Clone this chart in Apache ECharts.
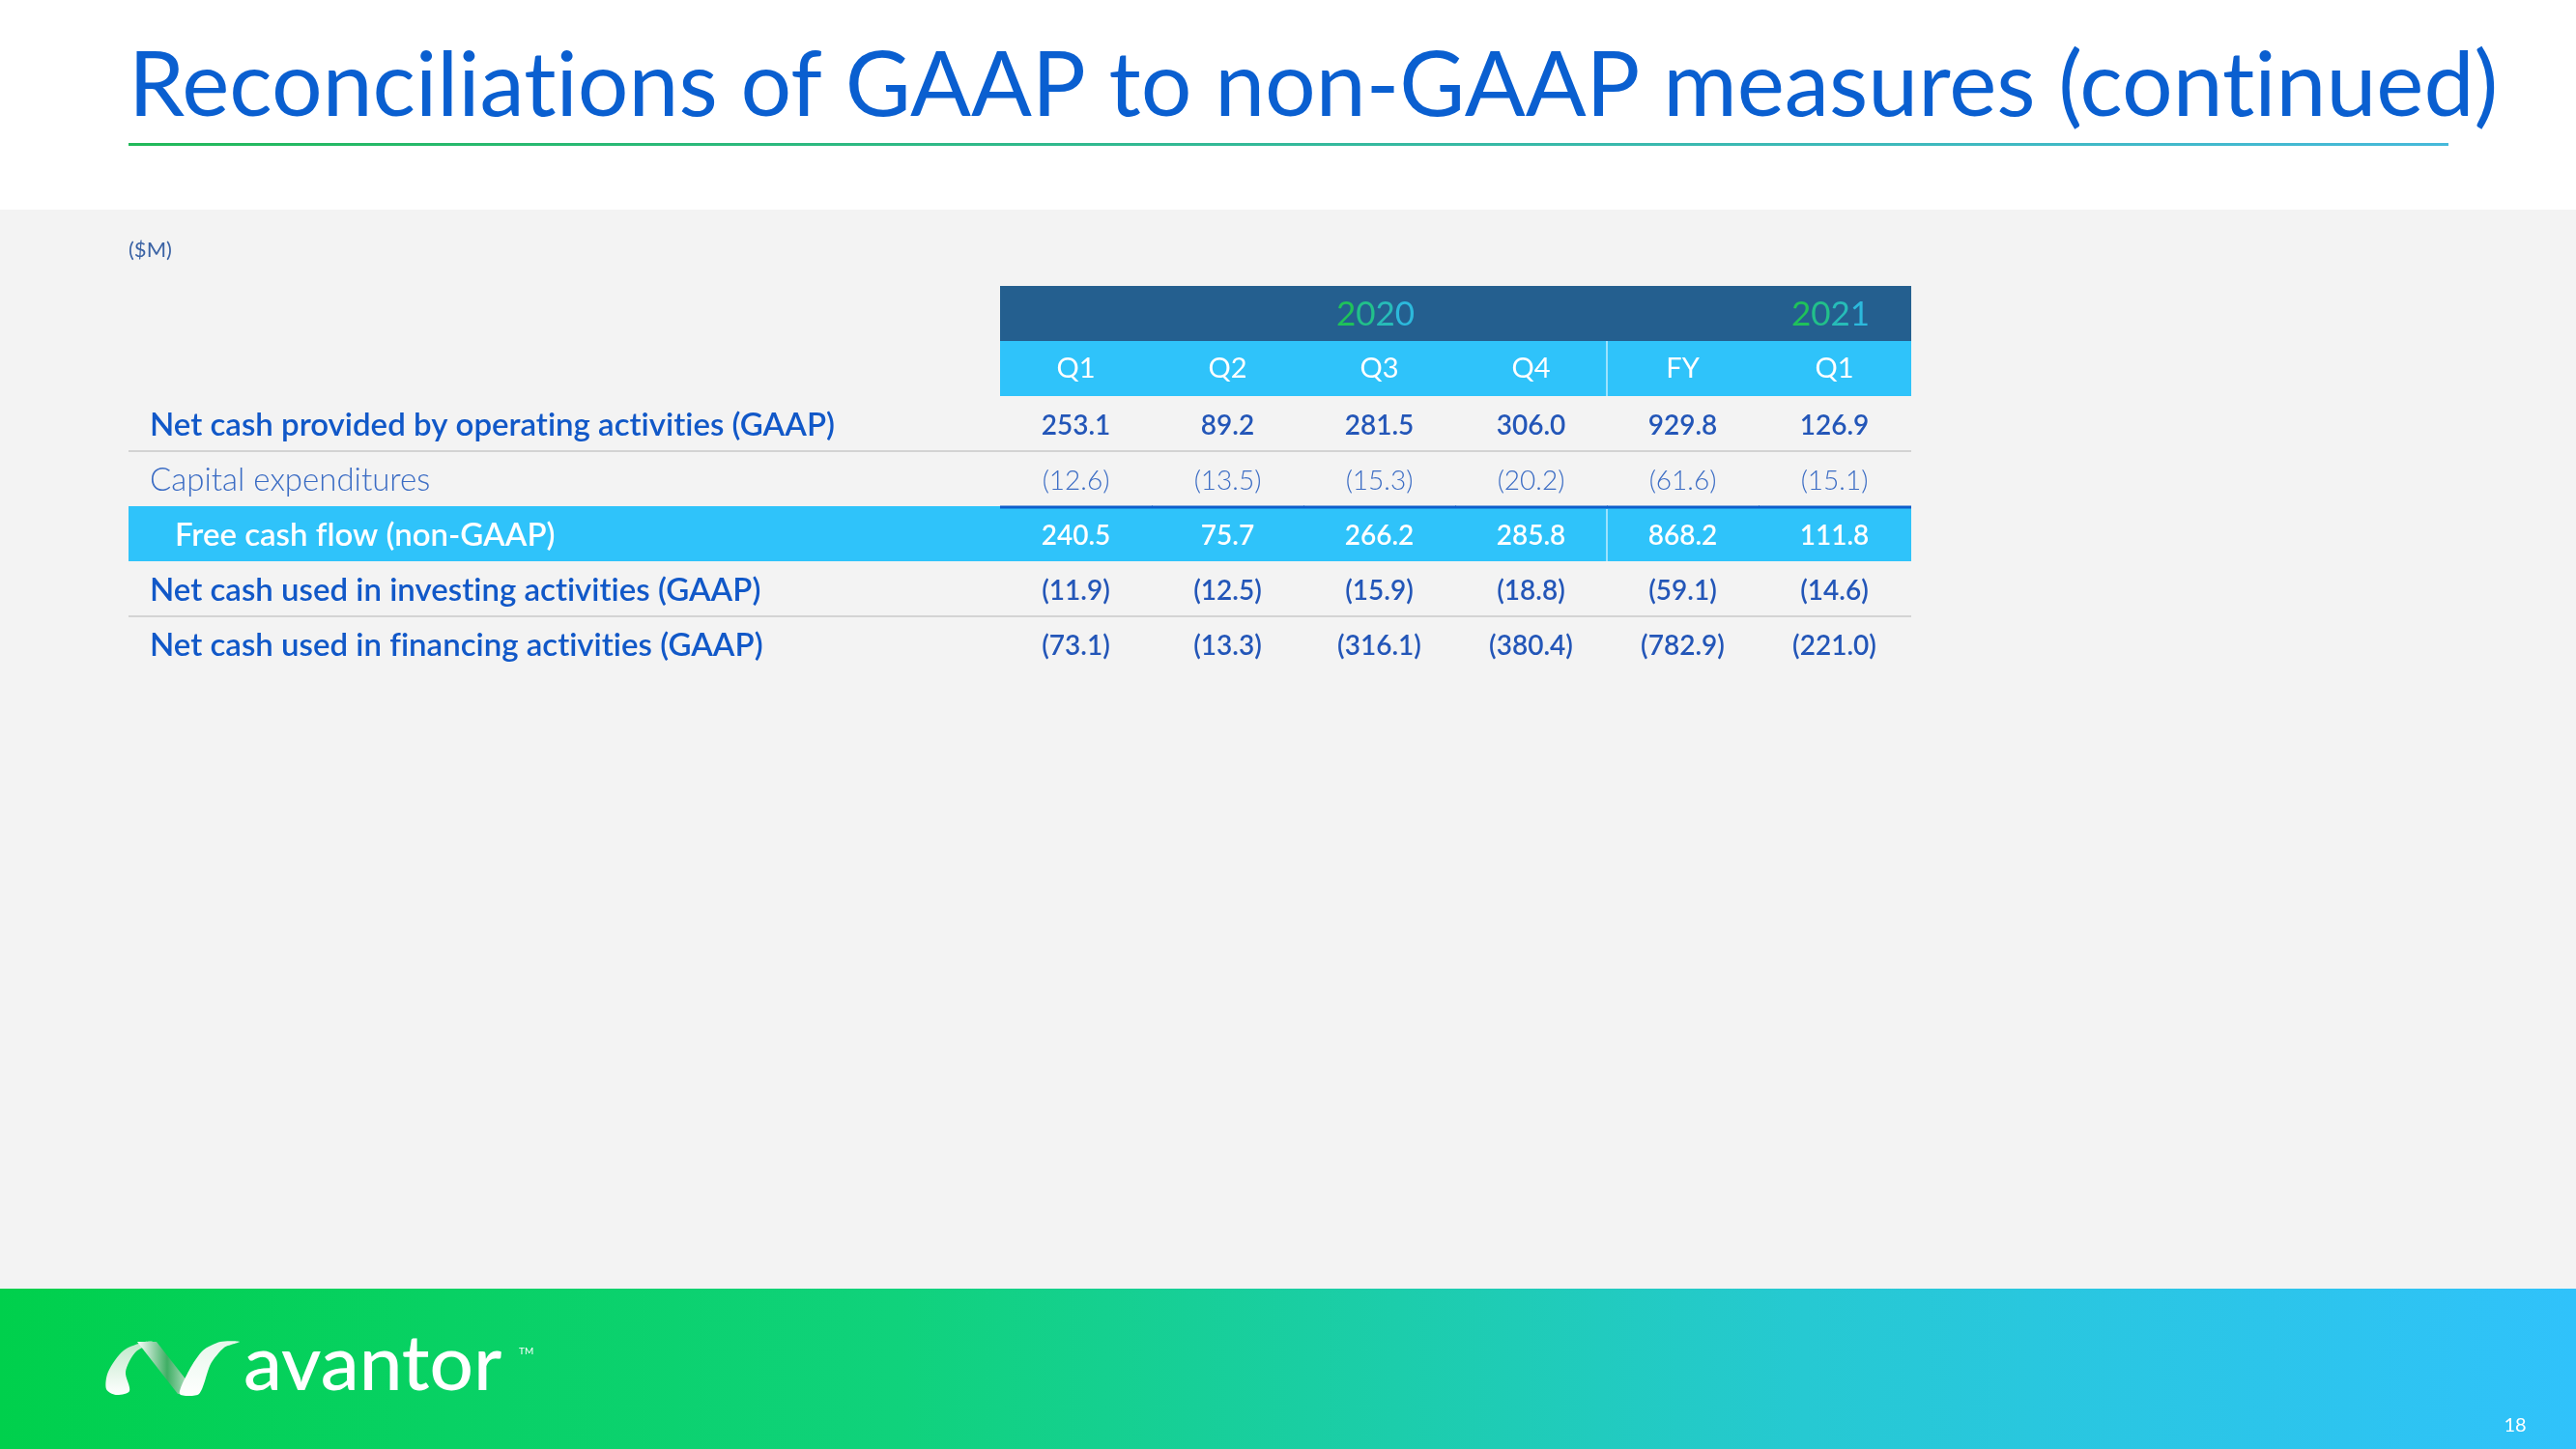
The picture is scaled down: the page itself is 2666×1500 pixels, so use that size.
<!DOCTYPE html>
<html>
<head>
<meta charset="utf-8">
<script src="https://cdn.jsdelivr.net/npm/echarts@6/dist/echarts.min.js"></script>
<style>
  html, body { margin: 0; padding: 0; background: #f3f3f3; }
  #main { width: 2666px; height: 1500px; }
</style>
</head>
<body>
<div id="main"></div>
<script>
// table data
var years = ['2020', '2021'];
var yearCol = [2, 5];          // column the year title sits over
var quarters = ['Q1', 'Q2', 'Q3', 'Q4', 'FY', 'Q1'];
var rowLabels = [
    'Net cash provided by operating activities (GAAP)',
    'Capital expenditures',
    'Free cash flow (non-GAAP)',
    'Net cash used in investing activities (GAAP)',
    'Net cash used in financing activities (GAAP)'
];
var operating = [253.1, 89.2, 281.5, 306.0, 929.8, 126.9];
var capex     = [-12.6, -13.5, -15.3, -20.2, -61.6, -15.1];
var fcf       = [240.5, 75.7, 266.2, 285.8, 868.2, 111.8];
var investing = [-11.9, -12.5, -15.9, -18.8, -59.1, -14.6];
var financing = [-73.1, -13.3, -316.1, -380.4, -782.9, -221.0];

var rowValues = [operating, capex, fcf, investing, financing];
var rowNames = ['year', 'quarter'].concat(rowLabels);

var FONT = 'Lato';
var BLUE = '#1158c8';

function fmt(v) {
    return v < 0 ? '(' + (-v).toFixed(1) + ')' : v.toFixed(1);
}
// Lato joins "ti" / "fi", the slide font does not
function noLig(s) {
    return s.replace(/t(?=i)/g, 't\u200C').replace(/f(?=i)/g, 'f\u200C').replace(/f(?=l)/g, 'f\u200C');
}

// per row look (rows 2..6 are the data rows)
var rowStyle = {
    2: { color: BLUE, numColor: '#2356b8', weight: 600 },
    3: { color: '#3b6cc4', numColor: '#3b6cc4', weight: 300 },
    4: { color: '#ffffff', numColor: '#ffffff', weight: 600, band: '#2fc3fa' },
    5: { color: BLUE, numColor: '#2356b8', weight: 600 },
    6: { color: BLUE, numColor: '#2356b8', weight: 600 }
};

// cells of the numeric part
var cells = [];
for (var c = 0; c < quarters.length; c++) {
    var yi = yearCol.indexOf(c);
    cells.push({ col: c, row: 0, text: yi >= 0 ? years[yi] : '' });
    cells.push({ col: c, row: 1, text: quarters[c] });
    for (var r = 0; r < rowValues.length; r++) {
        cells.push({ col: c, row: r + 2, text: fmt(rowValues[r][c]) });
    }
}
// cells of the label column
var labelCells = [];
for (var r2 = 0; r2 < rowLabels.length; r2++) {
    labelCells.push({ col: 0, row: r2 + 2, text: rowLabels[r2] });
}

function cellRect(api, col, row) {
    var p = api.coord([col, row]);
    var s = api.size([1, 1]);
    var w = Math.abs(s[0]), h = Math.abs(s[1]);
    return { x: p[0] - w / 2, y: p[1] - h / 2, width: w, height: h, cx: p[0], cy: p[1] };
}

var yearColors = ['#1fc25a', '#22c08a', '#27bcb8', '#2cb9dc'];
function yearRich(t) {
    var s = '';
    for (var i = 0; i < t.length; i++) s += '{c' + i + '|' + t.charAt(i) + '}';
    return s;
}
var richYear = {};
yearColors.forEach(function (col, i) {
    richYear['c' + i] = { fill: col, font: '35px ' + FONT };
});

function renderNumber(params, api) {
    var cell = cells[params.dataIndex];
    var rc = cellRect(api, cell.col, cell.row);
    var kids = [];
    if (cell.row === 0) {
        kids.push({ type: 'rect', shape: { x: rc.x, y: rc.y, width: rc.width + 1, height: rc.height }, style: { fill: '#245f8f' } });
        if (cell.text) {
            kids.push({ type: 'text', style: { x: rc.cx - 4, y: rc.cy + 1, text: yearRich(cell.text), rich: richYear, align: 'center', verticalAlign: 'middle' } });
        }
        return { type: 'group', children: kids };
    }
    if (cell.row === 1) {
        kids.push({ type: 'rect', shape: { x: rc.x, y: rc.y, width: rc.width + 1, height: rc.height }, style: { fill: '#2fc3fa' } });
        kids.push({ type: 'text', style: { x: rc.cx, y: rc.cy, text: cell.text, fill: '#ffffff', font: '29px ' + FONT, align: 'center', verticalAlign: 'middle' } });
        if (cell.col === 4) {
            kids.push({ type: 'line', shape: { x1: rc.x, y1: rc.y, x2: rc.x, y2: rc.y + rc.height }, style: { stroke: 'rgba(255,255,255,0.7)', lineWidth: 1.5 } });
        }
        return { type: 'group', children: kids };
    }
    var st = rowStyle[cell.row];
    if (st.band) {
        kids.push({ type: 'rect', shape: { x: rc.x, y: rc.y, width: rc.width + 1, height: rc.height }, style: { fill: st.band } });
        kids.push({ type: 'line', shape: { x1: rc.x, y1: rc.y + 1, x2: rc.x + rc.width + 1, y2: rc.y + 1 }, style: { stroke: '#0e5ecb', lineWidth: 3 } });
        if (cell.col === 4) {
            kids.push({ type: 'line', shape: { x1: rc.x, y1: rc.y + 3, x2: rc.x, y2: rc.y + rc.height }, style: { stroke: 'rgba(255,255,255,0.7)', lineWidth: 1.5 } });
        }
    }
    if (cell.row === 2 || cell.row === 5) {
        kids.push({ type: 'line', shape: { x1: rc.x, y1: rc.y + rc.height, x2: rc.x + rc.width + 1, y2: rc.y + rc.height }, style: { stroke: '#d3d3d3', lineWidth: 2 } });
    }
    kids.push({ type: 'text', style: { x: rc.cx, y: rc.cy + 2, text: cell.text, fill: st.numColor, font: st.weight + ' 28px ' + FONT, align: 'center', verticalAlign: 'middle' } });
    return { type: 'group', children: kids };
}

function renderLabel(params, api) {
    var cell = labelCells[params.dataIndex];
    var rc = cellRect(api, cell.col, cell.row);
    var st = rowStyle[cell.row];
    var kids = [];
    if (st.band) {
        kids.push({ type: 'rect', shape: { x: rc.x, y: rc.y, width: rc.width + 1, height: rc.height }, style: { fill: st.band } });
    }
    if (cell.row === 2 || cell.row === 5) {
        kids.push({ type: 'line', shape: { x1: rc.x, y1: rc.y + rc.height, x2: rc.x + rc.width + 1, y2: rc.y + rc.height }, style: { stroke: '#d3d3d3', lineWidth: 2 } });
    }
    kids.push({ type: 'text', style: { x: rc.x + (st.band ? 48 : 22), y: rc.cy + 2, text: noLig(cell.text), fill: st.color, font: st.weight + ' 33px ' + FONT, align: 'left', verticalAlign: 'middle' } });
    return { type: 'group', children: kids };
}

var myChart = echarts.init(document.getElementById('main'));

var LG = echarts.graphic.LinearGradient;

var option = {
    backgroundColor: '#f3f3f3',
    animation: false,
    grid: [
        { left: 133, width: 902, top: 296, height: 399 },
        { left: 1035, width: 942, top: 296, height: 399 }
    ],
    xAxis: [
        { gridIndex: 0, type: 'category', data: ['label'], show: false },
        { gridIndex: 1, type: 'category', data: quarters.map(function (q, i) { return i; }), show: false }
    ],
    yAxis: [
        { gridIndex: 0, type: 'category', data: rowNames, inverse: true, show: false },
        { gridIndex: 1, type: 'category', data: rowNames, inverse: true, show: false }
    ],
    graphic: [
        { type: 'rect', shape: { x: 0, y: 0, width: 2666, height: 217 }, style: { fill: '#ffffff' }, silent: true },
        { type: 'text', style: { x: 133, y: 90, text: noLig('Reconciliations of GAAP to non-GAAP measures (continued)'), fill: '#0a5fd0', font: '93px ' + FONT, align: 'left', verticalAlign: 'middle' } },
        { type: 'rect', shape: { x: 133, y: 148, width: 2401, height: 3 },
          style: { fill: new LG(0, 0, 1, 0, [{ offset: 0, color: '#22b95a' }, { offset: 1, color: '#46b9da' }]) } },
        { type: 'text', style: { x: 133, y: 259, text: '($M)', fill: '#3b63a5', font: '22px ' + FONT, align: 'left', verticalAlign: 'middle' } },
        { type: 'rect', shape: { x: 0, y: 1334, width: 2666, height: 166 },
          style: { fill: new LG(0, 0, 1, 0, [
              { offset: 0, color: '#00d04c' }, { offset: 0.35, color: '#10d27c' },
              { offset: 0.7, color: '#26c9d2' }, { offset: 1, color: '#30c2fb' }]) } },
        // logo mark
        { type: 'polygon', shape: { smooth: 0.3, points: [[150, 1389], [128, 1398], [112, 1420], [110, 1438], [120, 1444], [134, 1440], [130, 1420], [140, 1400], [158, 1389]] },
          style: { fill: new LG(0, 0, 0, 1, [{ offset: 0, color: '#bfe8c9' }, { offset: 1, color: '#ffffff' }]) } },
        { type: 'polygon', shape: { points: [[142, 1389], [162, 1389], [204, 1443], [184, 1443]] },
          style: { fill: new LG(0, 0, 1, 0, [{ offset: 0, color: '#ffffff' }, { offset: 0.5, color: '#3fae64' }, { offset: 1, color: '#e6f5ea' }]) } },
        { type: 'polygon', shape: { smooth: 0.25, points: [[186, 1443], [206, 1443], [218, 1412], [232, 1395], [248, 1389], [228, 1389], [210, 1398], [196, 1418]] },
          style: { fill: new LG(0, 0, 0, 1, [{ offset: 0, color: '#e8f7ec' }, { offset: 1, color: '#ffffff' }]) } },
        { type: 'text', style: { x: 252, y: 1413, text: 'avantor', fill: '#ffffff', font: '500 80px ' + FONT, align: 'left', verticalAlign: 'middle' } },
        { type: 'text', style: { x: 537, y: 1399, text: 'TM', fill: '#ffffff', font: '10px ' + FONT, align: 'left', verticalAlign: 'middle' } },
        { type: 'text', style: { x: 2603, y: 1476, text: '18', fill: '#ffffff', font: '20px ' + FONT, align: 'center', verticalAlign: 'middle' } }
    ],
    series: [
        {
            type: 'custom', name: 'labels', xAxisIndex: 0, yAxisIndex: 0,
            renderItem: renderLabel,
            data: labelCells.map(function (d) { return [d.col, d.row]; }),
            encode: { x: 0, y: 1 }, silent: true
        },
        {
            type: 'custom', name: 'values', xAxisIndex: 1, yAxisIndex: 1,
            renderItem: renderNumber,
            data: cells.map(function (d) { return [d.col, d.row]; }),
            encode: { x: 0, y: 1 }, silent: true
        }
    ]
};

myChart.setOption(option);
</script>
</body>
</html>
